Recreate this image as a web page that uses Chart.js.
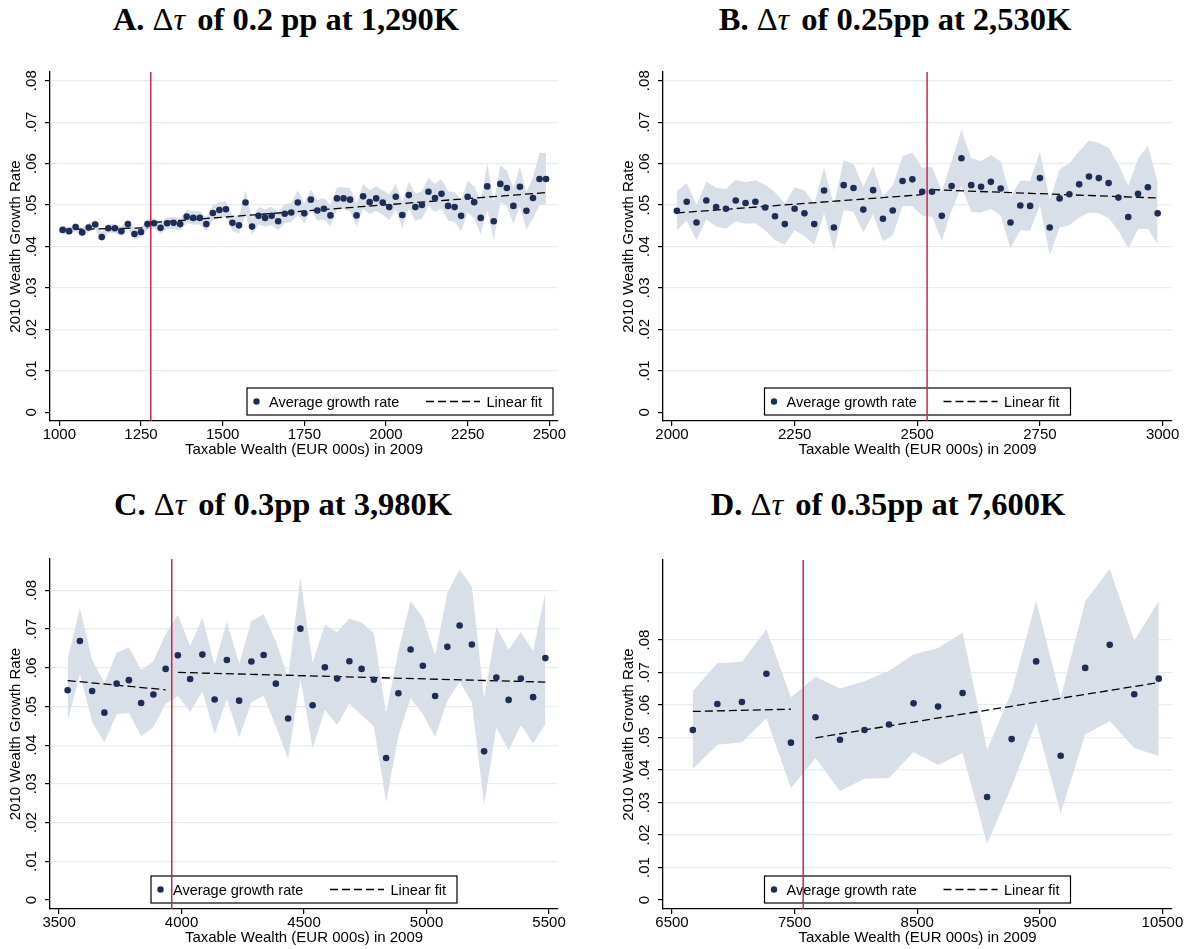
<!DOCTYPE html>
<html>
<head>
<meta charset="utf-8">
<script src="https://cdn.jsdelivr.net/npm/chart.js@4.4.1/dist/chart.umd.min.js"></script>
<style>
	body { margin: 0; background: #fff; width: 1187px; height: 949px; position: relative; overflow: hidden }
	.ttl { position: absolute; font: bold 32.5px 'Liberation Serif', 'Times New Roman', serif; line-height: 1; white-space: nowrap; transform: translateX(-50%) }
	.ttl .m { font-weight: normal }
	.ttl i { margin-right: 4px }
	canvas { position: absolute }
</style>
</head>
<body>
<div class="ttl" style="left:286px;top:3px">A. <span class="m">Δ<i>τ</i></span> of 0.2 pp at 1,290K</div>
<div class="ttl" style="left:895px;top:3px">B. <span class="m">Δ<i>τ</i></span> of 0.25pp at 2,530K</div>
<div class="ttl" style="left:283px;top:488px">C. <span class="m">Δ<i>τ</i></span> of 0.3pp at 3,980K</div>
<div class="ttl" style="left:888px;top:488px">D. <span class="m">Δ<i>τ</i></span> of 0.35pp at 7,600K</div>
<canvas id="cA" width="593" height="434" style="left:0;top:40px"></canvas>
<canvas id="cB" width="594" height="434" style="left:593px;top:40px"></canvas>
<canvas id="cC" width="593" height="430" style="left:0;top:519px"></canvas>
<canvas id="cD" width="594" height="430" style="left:593px;top:519px"></canvas>
<script>
const xTitle = 'Taxable Wealth (EUR 000s) in 2009'
const yTitle = '2010 Wealth Growth Rate'
const legendLabels = ['Average growth rate', 'Linear fit']
const yTicks = [0, 0.01, 0.02, 0.03, 0.04, 0.05, 0.06, 0.07, 0.08]

// Panel A
const aX = [1010,1030,1050,1070,1090,1110,1130,1150,1170,1190,
	1210,1230,1250,1270,1290,1310,1330,1350,1370,1390,
	1410,1430,1450,1470,1490,1510,1530,1550,1570,1590,
	1610,1630,1650,1670,1690,1710,1730,1750,1770,1790,
	1810,1830,1850,1870,1890,1910,1930,1950,1970,1990,
	2010,2030,2050,2070,2090,2110,2130,2150,2170,2190,
	2210,2230,2250,2270,2290,2310,2330,2350,2370,2390,
	2410,2430,2450,2470,2490]
const aY = [.0440,.0437,.0447,.0434,.0446,.0453,.0423,.0444,.0444,.0437,
	.0454,.0430,.0435,.0454,.0456,.0445,.0456,.0457,.0454,.0472,
	.0469,.0469,.0454,.0481,.0488,.0490,.0457,.0451,.0506,.0448,
	.0474,.0469,.0474,.0461,.0479,.0482,.0506,.0480,.0513,.0487,
	.0491,.0475,.0516,.0516,.0513,.0475,.0521,.0507,.0516,.0506,
	.0495,.0520,.0476,.0524,.0495,.0500,.0532,.0517,.0527,.0498,
	.0495,.0474,.0520,.0507,.0469,.0545,.0461,.0551,.0541,.0498,
	.0544,.0486,.0517,.0563,.0563]
const aCI = [.0010,.0010,.0010,.0010,.0011,.0011,.0012,.0011,.0011,.0012,
	.0012,.0013,.0012,.0013,.0013,.0014,.0014,.0015,.0015,.0016,
	.0016,.0016,.0017,.0018,.0018,.0019,.0019,.0020,.0030,.0020,
	.0021,.0021,.0022,.0022,.0023,.0023,.0030,.0024,.0025,.0025,
	.0026,.0026,.0027,.0027,.0028,.0028,.0030,.0029,.0030,.0030,
	.0031,.0031,.0032,.0032,.0033,.0033,.0034,.0034,.0035,.0035,
	.0036,.0037,.0038,.0039,.0040,.0055,.0046,.0045,.0042,.0044,
	.0048,.0045,.0050,.0063,.0063]
const aFitX = [[1010, 1270], [1290, 2490]]
const aFitY = [[.0441, .0445], [.0458, .0530]]
const aCut = 1280
const aTicks = [1000, 1250, 1500, 1750, 2000, 2250, 2500]

// Panel B
const bX = [2010,2030,2050,2070,2090,2110,2130,2150,2170,2190,
	2210,2230,2250,2270,2290,2310,2330,2350,2370,2390,
	2410,2430,2450,2470,2490,2510,2530,2550,2570,2590,
	2610,2630,2650,2670,2690,2710,2730,2750,2770,2790,
	2810,2830,2850,2870,2890,2910,2930,2950,2970,2990]
const bY = [.0486,.0508,.0458,.0511,.0495,.0491,.0511,.0505,.0508,.0494,
	.0473,.0454,.0491,.0480,.0454,.0535,.0446,.0548,.0541,.0489,
	.0536,.0467,.0487,.0558,.0562,.0532,.0532,.0474,.0546,.0613,
	.0548,.0544,.0556,.0540,.0458,.0499,.0498,.0565,.0446,.0516,
	.0526,.0550,.0569,.0565,.0553,.0518,.0471,.0527,.0543,.0480]
const bCI = [.0047,.0045,.0043,.0046,.0047,.0048,.0050,.0050,.0052,.0055,
	.0058,.0050,.0052,.0055,.0050,.0055,.0055,.0060,.0058,.0055,
	.0058,.0055,.0060,.0060,.0065,.0058,.0060,.0060,.0060,.0068,
	.0065,.0062,.0065,.0065,.0062,.0060,.0060,.0065,.0067,.0070,
	.0075,.0080,.0087,.0085,.0085,.0080,.0075,.0085,.0100,.0075]
const bFitX = [[2010, 2510], [2530, 2990]]
const bFitY = [[.0481, .0525], [.0537, .0517]]
const bCut = 2520
const bTicks = [2000, 2250, 2500, 2750, 3000]

// Panel C
const cX = [3535,3585,3635,3685,3735,3785,3835,3885,3935,3985,
	4035,4085,4135,4185,4235,4285,4335,4385,4435,4485,
	4535,4585,4635,4685,4735,4785,4835,4885,4935,4985,
	5035,5085,5135,5185,5235,5285,5335,5385,5435,5485]
const cY = [.0542,.0669,.0540,.0484,.0559,.0568,.0509,.0531,.0597,.0632,
	.0571,.0634,.0518,.0620,.0515,.0616,.0633,.0559,.0469,.0701,
	.0503,.0601,.0572,.0617,.0597,.0569,.0367,.0534,.0647,.0605,
	.0527,.0654,.0709,.0660,.0384,.0575,.0517,.0572,.0524,.0625]
const cCI = [.0080,.0085,.0080,.0077,.0080,.0085,.0085,.0085,.0090,.0105,
	.0085,.0095,.0090,.0100,.0095,.0105,.0105,.0110,.0105,.0130,
	.0110,.0110,.0120,.0110,.0120,.0120,.0115,.0110,.0125,.0125,
	.0105,.0140,.0145,.0150,.0138,.0130,.0130,.0120,.0120,.0170]
const cFitX = [[3535, 3935], [3985, 5485]]
const cFitY = [[.0567, .0543], [.0588, .0563]]
const cCut = 3960
const cTicks = [3500, 4000, 4500, 5000, 5500]

// Panel D
const dX = [6670,6870,7070,7270,7470,7670,7870,8070,8270,8470,
	8670,8870,9070,9270,9470,9670,9870,10070,10270,10470]
const dY = [.0523,.0603,.0609,.0696,.0484,.0562,.0493,.0523,.0540,.0605,
	.0595,.0637,.0317,.0495,.0734,.0444,.0714,.0785,.0633,.0681]
const dCI = [.0120,.0125,.0124,.0137,.0140,.0125,.0158,.0150,.0165,.0150,
	.0180,.0185,.0145,.0146,.0187,.0178,.0205,.0234,.0165,.0238]
const dFitX = [[6670, 7470], [7670, 10470]]
const dFitY = [[.0580, .0587], [.0499, .0669]]
const dCut = 7570
const dTicks = [6500, 7500, 8500, 9500, 10500]

const dotColor = '#1e2d55'
const bandColor = '#d9dfe8'
const cutColor = '#d0254e'
const gridColor = '#e5edf0'
const sans = "'Liberation Sans', Arial, sans-serif"

// legend box drawn inside the plot region, before datasets so the cut line passes over it
const boxLegend = {
	id: 'boxLegend',
	beforeDatasetsDraw(chart, args, opts) {
		const { ctx, chartArea: a } = chart
		const w = 306, h = 27
		const x0 = opts.align === 'right' ? a.right - 5 - w : (a.left + a.right) / 2 - w / 2
		const y0 = a.bottom - 6 - h
		const cy = y0 + h / 2
		ctx.save()
		ctx.fillStyle = '#fff'
		ctx.fillRect(x0, y0, w, h)
		ctx.strokeStyle = '#000'
		ctx.lineWidth = 1.2
		ctx.strokeRect(x0, y0, w, h)
		ctx.fillStyle = dotColor
		ctx.beginPath()
		ctx.arc(x0 + 9.5, cy, 3.2, 0, 2 * Math.PI)
		ctx.fill()
		ctx.fillStyle = '#000'
		ctx.font = '14.5px ' + sans
		ctx.textBaseline = 'middle'
		ctx.fillText(legendLabels[0], x0 + 22, cy + 1)
		ctx.setLineDash([8, 4])
		ctx.lineWidth = 1.3
		ctx.beginPath()
		ctx.moveTo(x0 + 179, cy)
		ctx.lineTo(x0 + 233, cy)
		ctx.stroke()
		ctx.setLineDash([])
		ctx.fillText(legendLabels[1], x0 + 239.5, cy + 1)
		ctx.restore()
	}
}

function makePanel(canvasId, p) {
	const pts = p.xs.map((x, i) => ({ x, y: p.ys[i] }))
	const lo = p.xs.map((x, i) => ({ x, y: p.ys[i] - p.ci[i] }))
	const hi = p.xs.map((x, i) => ({ x, y: p.ys[i] + p.ci[i] }))
	const fits = p.fitX.map((fx, k) => ({
		type: 'line',
		data: fx.map((x, j) => ({ x, y: p.fitY[k][j] })),
		borderColor: '#000',
		borderWidth: 1.3,
		borderDash: [8, 4],
		pointRadius: 0,
		fill: false,
		order: 1
	}))
	const datasets = [
		{ type: 'scatter', data: pts, backgroundColor: dotColor, borderWidth: 0, pointRadius: 3.3, order: 0 },
		...fits,
		{ type: 'line', data: [{ x: p.cut, y: p.yMin }, { x: p.cut, y: p.yMax }], borderColor: cutColor, borderWidth: 1.5, pointRadius: 0, fill: false, order: 2 },
		{ type: 'line', data: lo, borderWidth: 0, borderColor: 'rgba(0,0,0,0)', pointRadius: 0, fill: false, order: 3 },
		{ type: 'line', data: hi, borderWidth: 0, borderColor: 'rgba(0,0,0,0)', pointRadius: 0, fill: '-1', backgroundColor: bandColor, order: 3 }
	]
	return new Chart(document.getElementById(canvasId), {
		data: { datasets },
		plugins: [boxLegend],
		options: {
			responsive: false,
			animation: false,
			devicePixelRatio: 1,
			layout: { padding: p.pad },
			plugins: {
				legend: { display: false },
				tooltip: { enabled: false },
				boxLegend: { align: p.legendAlign }
			},
			scales: {
				x: {
					type: 'linear',
					min: p.xMin,
					max: p.xMax,
					afterBuildTicks: s => { s.ticks = p.xTicks.map(value => ({ value })) },
					afterFit: s => { s.height = 38 },
					border: { color: '#000', width: 1.3 },
					grid: { drawOnChartArea: false, color: '#000', tickLength: 5, lineWidth: 1.2 },
					ticks: { color: '#000', font: { family: sans, size: 15 }, padding: 0, autoSkip: false, maxRotation: 0, callback: v => String(v) },
					title: { display: true, text: xTitle, color: '#000', font: { family: sans, size: 15 }, padding: { top: 0, bottom: 0 } }
				},
				y: {
					type: 'linear',
					min: p.yMin,
					max: p.yMax,
					afterBuildTicks: s => { s.ticks = yTicks.map(value => ({ value })) },
					afterFit: s => { s.width = 50 },
					border: { color: '#000', width: 1.3 },
					grid: {
						color: c => (c.tick && c.tick.value === 0 ? 'rgba(0,0,0,0)' : gridColor),
						tickColor: '#000',
						tickLength: 5,
						lineWidth: 1.2
					},
					ticks: {
						color: '#000',
						font: { family: sans, size: 15 },
						minRotation: 90,
						maxRotation: 90,
						crossAlign: 'center',
						padding: 3,
						callback: v => (v === 0 ? '0' : v.toFixed(2).replace(/^0/, ''))
					},
					title: { display: true, text: yTitle, color: '#000', font: { family: sans, size: 15 }, padding: { top: 7, bottom: 0 } }
				}
			}
		}
	})
}

makePanel('cA', {
	xs: aX, ys: aY, ci: aCI, fitX: aFitX, fitY: aFitY, cut: aCut, xTicks: aTicks,
	xMin: 971.5, xMax: 2526.6, yMin: -0.0021, yMax: 0.0821,
	pad: { left: 0, top: 32, right: 35, bottom: 15 }, legendAlign: 'right'
})
makePanel('cB', {
	xs: bX, ys: bY, ci: bCI, fitX: bFitX, fitY: bFitY, cut: bCut, xTicks: bTicks,
	xMin: 1981.7, xMax: 3019.2, yMin: -0.0021, yMax: 0.0821,
	pad: { left: 20, top: 32, right: 15, bottom: 15 }, legendAlign: 'center'
})
makePanel('cC', {
	xs: cX, ys: cY, ci: cCI, fitX: cFitX, fitY: cFitY, cut: cCut, xTicks: cTicks,
	xMin: 3463, xMax: 5536.6, yMin: -0.00233, yMax: 0.0881,
	pad: { left: 0, top: 40, right: 35, bottom: 2 }, legendAlign: 'center'
})
makePanel('cD', {
	xs: dX, ys: dY, ci: dCI, fitX: dFitX, fitY: dFitY, cut: dCut, xTicks: dTicks,
	xMin: 6426.6, xMax: 10578, yMin: -0.00277, yMax: 0.1046,
	pad: { left: 20, top: 41, right: 15, bottom: 2 }, legendAlign: 'center'
})
</script>
</body>
</html>
